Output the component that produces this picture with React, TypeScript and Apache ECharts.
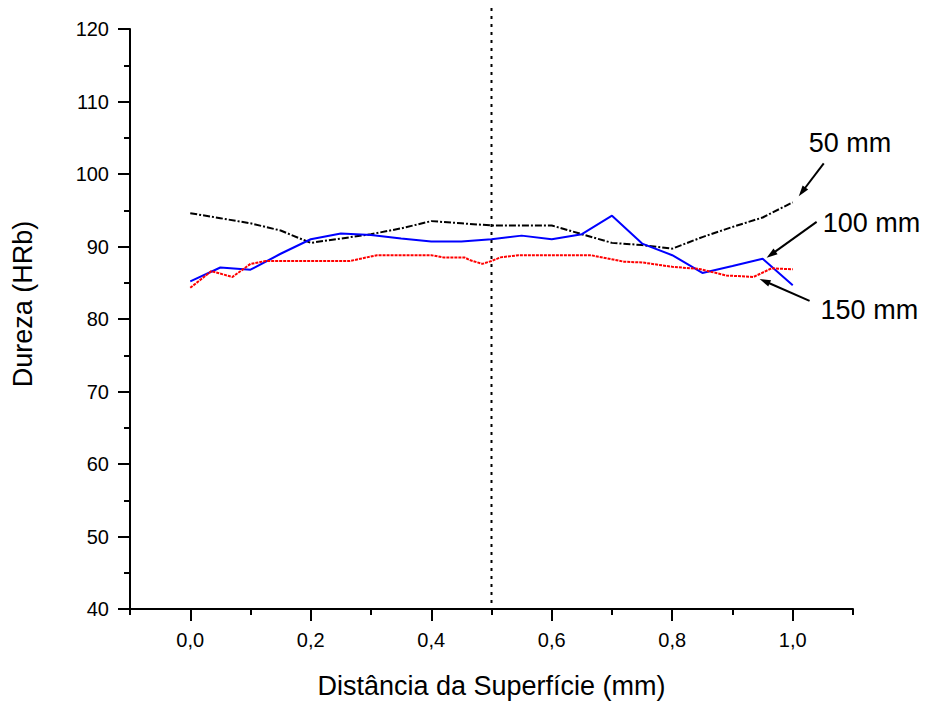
import React, { useEffect, useRef } from "react";
import * as echarts from "echarts";

// ---- data ----
const xValues = [0, 0.05, 0.1, 0.15, 0.2, 0.25, 0.3, 0.35, 0.4, 0.45, 0.5, 0.55, 0.6, 0.65, 0.7, 0.75, 0.8, 0.85, 0.9, 0.95, 1.0];
const hardness50 = [94.6, 93.9, 93.2, 92.2, 90.5, 91.1, 91.7, 92.5, 93.5, 93.2, 92.9, 92.9, 92.9, 91.7, 90.5, 90.2, 89.7, 91.3, 92.7, 94.0, 96.1];
const hardness100 = [85.2, 87.1, 86.8, 89.0, 91.0, 91.8, 91.6, 91.1, 90.7, 90.7, 91.0, 91.5, 91.0, 91.7, 94.25, 90.4, 88.8, 86.35, 87.3, 88.3, 84.65];
const x150 = [0, 0.035, 0.07, 0.1, 0.125, 0.265, 0.31, 0.4, 0.42, 0.455, 0.465, 0.485, 0.5, 0.515, 0.545, 0.665, 0.72, 0.75, 0.8, 0.845, 0.89, 0.935, 0.965, 1.0];
const hardness150 = [84.3, 86.6, 85.8, 87.6, 88.0, 88.0, 88.8, 88.8, 88.5, 88.5, 88.1, 87.6, 88.0, 88.5, 88.8, 88.8, 87.9, 87.8, 87.2, 86.9, 86.0, 85.8, 87.0, 86.85];

const xMajorTicks = [0, 0.2, 0.4, 0.6, 0.8, 1.0];
const seriesNames = ["50 mm", "100 mm", "150 mm"];
const markerX = 0.5;
const xTitle = "Distância da Superfície (mm)";
const yTitle = "Dureza (HRb)";

const FONT = "'Liberation Sans', Arial, sans-serif";

export default function App() {
  const ref = useRef<HTMLDivElement>(null);

  useEffect(() => {
    document.body.style.margin = "0";
    const chart = echarts.init(ref.current!, null, { renderer: "svg" });
    const axisLineStyle = { color: "#000", width: 2 };
    const option: any = {
      animation: false,
      backgroundColor: "#fff",
      grid: { left: 130, right: 74, top: 29, bottom: 92, containLabel: false },
      xAxis: [
        {
          type: "value",
          min: -0.1,
          max: 1.1,
          interval: 0.1,
          position: "bottom",
          axisLine: { show: true, onZero: false, lineStyle: axisLineStyle },
          axisTick: { show: true, length: 6, lineStyle: axisLineStyle },
          axisLabel: { show: false },
          splitLine: { show: false },
          name: xTitle,
          nameLocation: "middle",
          nameGap: 63,
          nameTextStyle: { fontSize: 27, color: "#000", fontFamily: FONT },
        },
        {
          type: "value",
          min: -0.1,
          max: 1.1,
          position: "bottom",
          axisLine: { show: false, onZero: false },
          axisTick: { show: true, length: 12, customValues: xMajorTicks, lineStyle: axisLineStyle },
          axisLabel: {
            show: true,
            customValues: xMajorTicks,
            formatter: (v: number) => v.toFixed(1).replace(".", ","),
            margin: 21,
            fontSize: 20,
            color: "#000",
            fontFamily: FONT,
          },
          splitLine: { show: false },
        },
      ],
      yAxis: [
        {
          type: "value",
          min: 40,
          max: 120,
          interval: 5,
          position: "left",
          axisLine: { show: true, onZero: false, lineStyle: axisLineStyle },
          axisTick: { show: true, length: 6, lineStyle: axisLineStyle },
          axisLabel: { show: false },
          splitLine: { show: false },
        },
        {
          type: "value",
          min: 40,
          max: 120,
          interval: 10,
          position: "left",
          axisLine: { show: false, onZero: false },
          axisTick: { show: true, length: 12, lineStyle: axisLineStyle },
          axisLabel: { show: true, margin: 21, fontSize: 20, color: "#000", fontFamily: FONT },
          splitLine: { show: false },
        },
      ],
      series: [
        {
          name: seriesNames[0],
          type: "line",
          showSymbol: false,
          data: xValues.map((x, i) => [x, hardness50[i]]),
          lineStyle: { color: "#000", width: 2, type: [7, 2, 2, 2] },
        },
        {
          name: seriesNames[1],
          type: "line",
          showSymbol: false,
          data: xValues.map((x, i) => [x, hardness100[i]]),
          lineStyle: { color: "#0000ff", width: 2, type: "solid" },
        },
        {
          name: seriesNames[2],
          type: "line",
          showSymbol: false,
          data: x150.map((x, i) => [x, hardness150[i]]),
          lineStyle: { color: "#ff0000", width: 2, type: [3, 1] },
        },
      ],
    };
    chart.setOption(option);

    const px = (x: number, y: number) => chart.convertToPixel({ gridIndex: 0 }, [x, y]) as number[];

    const graphics: any[] = [];
    // vertical dotted marker
    const mTop = px(markerX, 120);
    const mBot = px(markerX, 40);
    graphics.push({
      type: "line",
      shape: { x1: mTop[0], y1: 8, x2: mBot[0], y2: mBot[1] },
      style: { stroke: "#000", lineWidth: 2, lineDash: [3, 5] },
      z: 10,
    });

    // y-axis title
    const yTop = px(-0.1, 120);
    graphics.push({
      type: "text",
      x: yTop[0] - 107,
      y: (yTop[1] + mBot[1]) / 2 - 15,
      rotation: Math.PI / 2,
      style: {
        text: yTitle,
        fontSize: 27,
        fontFamily: FONT,
        fill: "#000",
        align: "center",
        verticalAlign: "middle",
        textAlign: "center",
        textVerticalAlign: "middle",
      },
    });

    // annotations with arrows, anchored to data points
    const annots = [
      { label: seriesNames[0], anchor: [xValues[20], hardness50[20]], tipOff: [6, -6], startOff: [25, -33], textOff: [10, -53] },
      { label: seriesNames[1], anchor: [xValues[19], hardness100[19]], tipOff: [4, -1], startOff: [50, -36], textOff: [56, -35] },
      { label: seriesNames[2], anchor: [x150[21], hardness150[21]], tipOff: [6, 2], startOff: [50, 22], textOff: [61, 31] },
    ];
    annots.forEach((a) => {
      const p = px(a.anchor[0], a.anchor[1]);
      const tip = [p[0] + a.tipOff[0], p[1] + a.tipOff[1]];
      const start = [tip[0] + a.startOff[0], tip[1] + a.startOff[1]];
      const dx = tip[0] - start[0];
      const dy = tip[1] - start[1];
      const len = Math.sqrt(dx * dx + dy * dy);
      const ux = dx / len;
      const uy = dy / len;
      const nx = -uy;
      const ny = ux;
      const L = 11;
      const W = 7;
      graphics.push({
        type: "line",
        shape: { x1: start[0], y1: start[1], x2: tip[0] - ux * L * 0.8, y2: tip[1] - uy * L * 0.8 },
        style: { stroke: "#000", lineWidth: 2 },
      });
      graphics.push({
        type: "polygon",
        shape: {
          points: [
            [tip[0], tip[1]],
            [tip[0] - ux * L + nx * W / 2, tip[1] - uy * L + ny * W / 2],
            [tip[0] - ux * L - nx * W / 2, tip[1] - uy * L - ny * W / 2],
          ],
        },
        style: { fill: "#000" },
      });
      graphics.push({
        type: "text",
        x: tip[0] + a.textOff[0],
        y: tip[1] + a.textOff[1],
        style: {
          text: a.label,
          fontSize: 27,
          fontFamily: FONT,
          fill: "#000",
          align: "left",
          verticalAlign: "middle",
          textAlign: "left",
          textVerticalAlign: "middle",
        },
      });
    });

    chart.setOption({ graphic: { elements: graphics } });

    return () => chart.dispose();
  }, []);

  return (
    <div
      ref={ref}
      style={{ position: "fixed", left: 0, top: 0, width: 927, height: 704, background: "#fff" }}
    />
  );
}
